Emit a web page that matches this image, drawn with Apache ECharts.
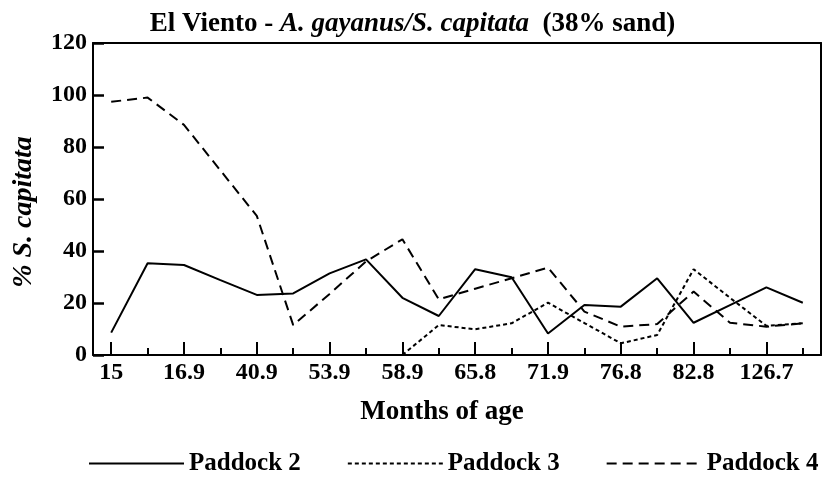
<!DOCTYPE html>
<html lang="en">
<head>
    <meta charset="utf-8">
    <title>El Viento</title>
    <script src="https://cdn.jsdelivr.net/npm/echarts@6/dist/echarts.min.js"></script>
</head>
<body style="margin:0">
    <div id="main" style="width:825px;height:480px;"></div>

    <script>
    // months of age, labels shown on every other category
    var months = ['15', '15.9', '16.9', '28.9', '40.9', '47.9', '53.9', '55.9', '58.9', '62.9',
                  '65.8', '68.9', '71.9', '74.9', '76.8', '79.8', '82.8', '97.7', '126.7', '140'];
    var paddock2 = [8.6, 35.3, 34.6, 28.8, 23.1, 23.7, 31.4, 36.8, 22, 15,
                    33, 29.9, 8.3, 19.2, 18.6, 29.5, 12.4, 19.2, 26, 20.1];
    var paddock3 = [null, null, null, null, null, null, null, null, 0, 11.5,
                    9.9, 12.2, 20.1, 12.3, 4.5, 7.7, 33, 22, 11.2, 12.2];
    var paddock4 = [97.4, 99, 88.5, 71, 53.5, 11.5, 23.5, 36, 44.5, 21.4,
                    25.5, 29.5, 33.6, 16.7, 10.9, 11.9, 24.4, 12.4, 10.9, 12.2];

    var font = 'Liberation Serif';
    var black = {color: '#000', width: 2};
    var myChart = echarts.init(document.getElementById('main'));
    myChart.setOption({
        animation: false,
        title: {
            text: '{n|El Viento - }{i|A. gayanus/S. capitata}{n|  (38% sand)}',
            left: 'center', top: 6,
            textStyle: {
                rich: {
                    n: {fontFamily: font, fontSize: 27, fontWeight: 'bold', color: '#000'},
                    i: {fontFamily: font, fontSize: 27, fontWeight: 'bold', fontStyle: 'italic', color: '#000'}
                }
            }
        },
        grid: {left: 93, right: 4, top: 43, bottom: 125},
        legend: {
            bottom: 4, left: 88, padding: 0, itemWidth: 95, itemHeight: 14, itemGap: 46,
            itemStyle: {opacity: 0},
            textStyle: {fontFamily: font, fontSize: 25, fontWeight: 'bold', color: '#000'},
            data: ['Paddock 2', 'Paddock 3', 'Paddock 4']
        },
        xAxis: [{
            type: 'category', data: months, position: 'bottom',
            name: 'Months of age', nameLocation: 'middle', nameGap: 44,
            nameTextStyle: {fontFamily: font, fontSize: 27, fontWeight: 'bold', color: '#000', padding: [0, 30, 0, 0]},
            axisLine: {show: true, lineStyle: black},
            axisTick: {show: true, inside: true, alignWithLabel: true, interval: 1, length: 13, lineStyle: black},
            axisLabel: {interval: 1, fontFamily: font, fontSize: 24, fontWeight: 'bold', color: '#000', margin: 6}
        }, {
            type: 'category', data: months, position: 'bottom',
            axisLine: {show: false},
            axisTick: {show: true, inside: true, alignWithLabel: true, interval: 0, length: 7, lineStyle: black},
            axisLabel: {show: false}
        }, {
            type: 'category', data: months, position: 'top',
            axisLine: {show: true, lineStyle: black},
            axisTick: {show: false},
            axisLabel: {show: false}
        }],
        yAxis: [{
            type: 'value', min: 0, max: 120, interval: 20, position: 'left',
            name: '% S. capitata', nameLocation: 'middle', nameGap: 55,
            nameTextStyle: {fontFamily: font, fontSize: 28, fontWeight: 'bold', fontStyle: 'italic', color: '#000', padding: [0, 26, 0, 0]},
            splitLine: {show: false},
            axisLine: {show: true, lineStyle: black},
            axisTick: {show: true, inside: true, length: 11, lineStyle: {color: '#000', width: 2.5}},
            axisLabel: {fontFamily: font, fontSize: 24, fontWeight: 'bold', color: '#000', margin: 6}
        }, {
            type: 'value', min: 0, max: 120, interval: 20, position: 'right',
            splitLine: {show: false},
            axisLine: {show: true, lineStyle: black},
            axisTick: {show: false},
            axisLabel: {show: false}
        }],
        series: [
            {name: 'Paddock 2', type: 'line', data: paddock2, symbol: 'none',
             lineStyle: {color: '#000', width: 2, type: 'solid'}, itemStyle: {color: '#000'}},
            {name: 'Paddock 3', type: 'line', data: paddock3, symbol: 'none',
             lineStyle: {color: '#000', width: 2, type: [4, 3]}, itemStyle: {color: '#000'}},
            {name: 'Paddock 4', type: 'line', data: paddock4, symbol: 'none',
             lineStyle: {color: '#000', width: 2, type: [10, 6]}, itemStyle: {color: '#000'}}
        ]
    });
    </script>
</body>
</html>
